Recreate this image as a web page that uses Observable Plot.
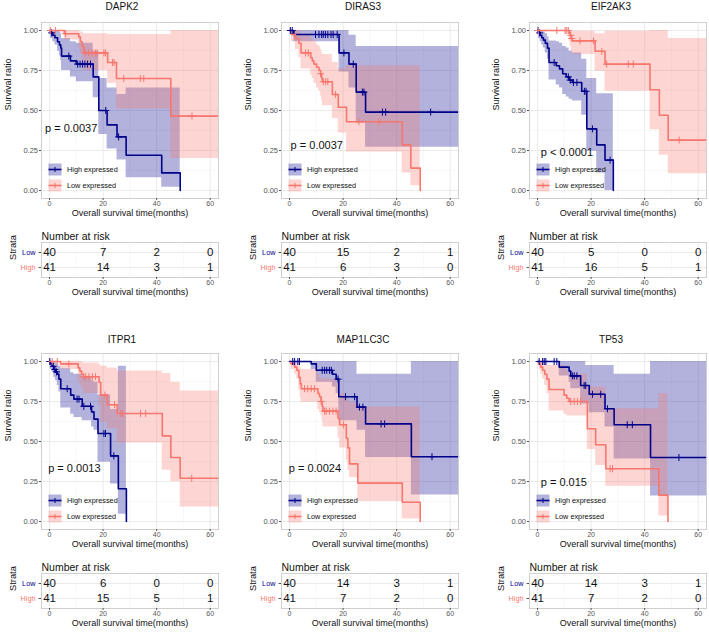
<!DOCTYPE html>
<html><head><meta charset="utf-8">
<script src="https://cdn.jsdelivr.net/npm/d3@7"></script>
<script src="https://cdn.jsdelivr.net/npm/@observablehq/plot@0.6"></script>
<style>
body{margin:0;background:#fff;font-family:"Liberation Sans",Arial,Helvetica,sans-serif;}
#root{position:relative;width:709px;height:632px;overflow:hidden;background:#fff;}
.abs{position:absolute;white-space:nowrap;}
</style></head><body><div id="root"></div>
<script>
// ---------- DATA ----------
// each step: [time (months), survival, lower CI, upper CI]
const genes = ["DAPK2", "DIRAS3", "EIF2AK3", "ITPR1", "MAP1LC3C", "TP53"];
const pvalues = ["p = 0.0037", "p = 0.0037", "p < 0.0001", "p = 0.0013", "p = 0.0024", "p = 0.015"];
const riskTimes = [0, 20, 40, 60];

const DAPK2_high = [[0,1,1,1],[0.4,0.985,0.95,1],[1.2,0.97,0.93,1],[2.0,0.955,0.91,1],[3.0,0.93,0.87,1],[3.7,0.91,0.84,0.99],[4.2,0.89,0.81,0.98],[4.5,0.84,0.75,0.95],[7.8,0.81,0.71,0.93],[10.0,0.79,0.68,0.92],[16.3,0.71,0.58,0.87],[18.4,0.50,0.35,0.70],[21.5,0.41,0.26,0.64],[25.2,0.335,0.19,0.60],[28.6,0.22,0.08,0.64],[41.9,0.11,0.02,0.64],[48.8,0,0,0]];
const DAPK2_highEnd = 48.8;
const DAPK2_highCens = [0.8,7.2,10.5,11.4,12.3,13.2,14.2,15.3,21.0,25.8];
const DAPK2_low = [[0,1,1,1],[5.5,0.98,0.94,1],[10.9,0.96,0.89,0.995],[11.5,0.93,0.85,0.99],[12.2,0.90,0.80,0.985],[12.8,0.86,0.75,0.98],[21.7,0.80,0.67,0.975],[25.0,0.70,0.51,0.975],[45.3,0.465,0.20,1]];
const DAPK2_lowEnd = 63.1;
const DAPK2_lowCens = [0.3,2.2,6.0,13.4,14.6,15.9,17.1,17.8,20.3,20.9,23.5,24.1,27.7,33.9,35.2,53.2];
const DAPK2_riskLow = [40,7,2,0];
const DAPK2_riskHigh = [41,14,3,1];

const DIRAS3_high = [[0,1,1,1],[1.6,0.975,0.93,1],[18.5,0.86,0.74,1],[22.2,0.79,0.64,0.97],[24.9,0.615,0.42,0.90],[28.4,0.49,0.27,0.90]];
const DIRAS3_highEnd = 63.1;
const DIRAS3_highCens = [0.3,1.0,9.7,11.0,12.0,12.6,13.4,14.3,15.5,16.3,17.8,20.3,23.8,27.2,27.8,34.7,35.9,52.7];
const DIRAS3_low = [[0,1,1,1],[0.7,0.975,0.93,1],[2.2,0.95,0.88,1],[3.5,0.92,0.83,1],[4.3,0.86,0.76,0.97],[7.9,0.83,0.72,0.95],[8.5,0.81,0.70,0.94],[9.1,0.79,0.67,0.93],[10.1,0.77,0.64,0.91],[11.0,0.75,0.62,0.90],[11.6,0.73,0.59,0.88],[12.0,0.70,0.56,0.86],[12.3,0.68,0.53,0.85],[16.0,0.60,0.45,0.80],[18.2,0.52,0.36,0.76],[21.3,0.43,0.24,0.78],[42.1,0.285,0.11,0.78],[45.3,0.14,0.03,0.78],[48.8,0,0,0]];
const DIRAS3_lowEnd = 48.8;
const DIRAS3_lowCens = [6.0,7.0,11.6,12.6,13.5,14.3,17.2,25.9,33.4];
const DIRAS3_riskLow = [40,15,2,1];
const DIRAS3_riskHigh = [41,6,3,0];

const EIF2AK3_high = [[0,1,1,1],[0.4,0.985,0.95,1],[1.0,0.97,0.93,1],[1.6,0.955,0.91,1],[2.2,0.94,0.89,0.99],[2.9,0.92,0.86,0.98],[3.7,0.89,0.82,0.96],[4.3,0.80,0.69,0.935],[7.0,0.78,0.66,0.93],[8.2,0.76,0.64,0.92],[9.4,0.73,0.60,0.90],[10.7,0.71,0.585,0.89],[11.8,0.69,0.57,0.87],[13.0,0.675,0.56,0.86],[16.5,0.62,0.47,0.82],[18.4,0.385,0.245,0.70],[22.1,0.285,0.11,0.605],[25.2,0.19,0.0,0.605],[28.3,0,0,0]];
const EIF2AK3_highEnd = 28.3;
const EIF2AK3_highCens = [0.2,0.8,6.2,11.5,12.2,13.4,14.7,17.5,18.1,20.5,27.1];
const EIF2AK3_low = [[0,1,1,1],[11.8,0.985,0.93,1],[12.2,0.97,0.90,1],[12.6,0.95,0.87,1],[13.0,0.935,0.85,0.995],[21.5,0.87,0.745,0.98],[25.2,0.79,0.62,0.995],[42.0,0.63,0.38,1],[45.5,0.47,0.22,1],[48.8,0.315,0.105,0.95]];
const EIF2AK3_lowEnd = 63.1;
const EIF2AK3_lowCens = [0.3,7.2,10.3,10.9,11.5,12.4,12.8,15.9,20.9,24.0,25.8,33.9,35.8,52.9];
const EIF2AK3_riskLow = [40,5,0,0];
const EIF2AK3_riskHigh = [41,16,5,1];

const ITPR1_high = [[0,1,1,1],[0.4,0.985,0.95,1],[1.0,0.97,0.93,1],[1.6,0.95,0.90,1],[2.2,0.935,0.88,0.99],[2.9,0.92,0.85,0.98],[3.5,0.89,0.81,0.97],[4.2,0.83,0.71,0.955],[7.9,0.79,0.67,0.93],[9.1,0.765,0.65,0.92],[12.2,0.72,0.63,0.90],[15.7,0.685,0.59,0.88],[16.6,0.64,0.57,0.87],[18.1,0.55,0.37,0.79],[22.8,0.41,0.235,0.70],[25.7,0.205,0.046,0.97],[28.7,0,0,0]];
const ITPR1_highEnd = 28.7;
const ITPR1_highCens = [0.1,1.4,2.0,2.6,6.6,10.3,11.0,12.8,15.3,20.3,20.9,24.0];
const ITPR1_low = [[0,1,1,1],[4.1,0.985,0.95,1],[10.7,0.96,0.88,1],[11.3,0.94,0.85,1],[12.0,0.92,0.83,0.995],[12.6,0.905,0.80,0.99],[18.5,0.87,0.72,0.98],[19.1,0.79,0.62,0.97],[21.6,0.73,0.58,0.96],[25.3,0.675,0.49,0.94],[42.1,0.535,0.32,0.925],[45.3,0.40,0.25,0.87],[48.8,0.27,0.09,0.815]];
const ITPR1_lowEnd = 63.1;
const ITPR1_lowCens = [1.0,2.9,7.2,12.8,13.5,14.7,16.0,17.2,20.7,24.3,26.6,27.2,34.0,35.9,53.1];
const ITPR1_riskLow = [40,6,0,0];
const ITPR1_riskHigh = [41,15,5,1];

const MAP1LC3C_high = [[0,1,1,1],[8.1,0.985,0.95,1],[10.0,0.945,0.87,1],[16.0,0.92,0.84,1],[17.4,0.89,0.80,1],[18.4,0.78,0.63,1],[25.2,0.715,0.57,0.92],[28.4,0.61,0.40,0.92],[45.5,0.405,0.165,1]];
const MAP1LC3C_highEnd = 63.1;
const MAP1LC3C_highCens = [1.2,1.9,3.1,3.7,12.2,13.1,13.9,14.9,15.6,18.1,20.9,24.3,26.1,27.4,34.2,35.5,53.2];
const MAP1LC3C_low = [[0,1,1,1],[0.6,0.985,0.95,1],[1.9,0.965,0.92,1],[2.7,0.945,0.89,1],[3.5,0.90,0.82,0.98],[4.0,0.86,0.77,0.96],[4.4,0.83,0.745,0.95],[10.6,0.80,0.70,0.92],[11.2,0.78,0.68,0.90],[11.8,0.75,0.66,0.89],[12.2,0.72,0.62,0.89],[12.5,0.69,0.59,0.89],[18.1,0.645,0.52,0.84],[18.7,0.605,0.46,0.80],[21.2,0.52,0.38,0.78],[21.8,0.46,0.32,0.76],[22.4,0.36,0.275,0.745],[25.5,0.24,0.125,0.715],[42.1,0.12,0.015,0.715],[48.8,0,0,0]];
const MAP1LC3C_lowEnd = 48.8;
const MAP1LC3C_lowCens = [5.6,6.8,8.1,9.3,11.8,13.1,13.7,14.9,16.2,17.4,20.2];
const MAP1LC3C_riskLow = [40,14,3,1];
const MAP1LC3C_riskHigh = [41,7,2,0];

const TP53_high = [[0,1,1,1],[8.1,0.965,0.91,1],[11.8,0.94,0.87,1],[12.4,0.91,0.83,1],[16.1,0.85,0.735,1],[18.0,0.85,0.735,0.975],[19.3,0.795,0.68,0.975],[25.2,0.705,0.59,0.975],[28.6,0.605,0.39,0.92],[42.2,0.40,0.16,1]];
const TP53_highEnd = 63.1;
const TP53_highCens = [0.6,1.9,2.5,3.1,6.2,7.2,13.0,13.7,14.7,17.4,18.0,20.5,23.6,26.1,33.5,35.4,52.8];
const TP53_low = [[0,1,1,1],[0.6,0.985,0.95,1],[1.2,0.965,0.92,1],[1.9,0.945,0.89,0.995],[2.7,0.92,0.85,0.99],[3.5,0.89,0.80,0.98],[4.3,0.825,0.69,0.975],[9.9,0.79,0.67,0.955],[10.9,0.77,0.66,0.94],[11.8,0.75,0.66,0.92],[18.6,0.58,0.45,0.84],[21.7,0.48,0.35,0.84],[25.5,0.33,0.22,0.705],[45.3,0.165,0.035,0.80],[48.7,0,0,0]];
const TP53_lowEnd = 48.7;
const TP53_lowCens = [12.4,13.7,14.9,16.1,27.1,28.0];
const TP53_riskLow = [40,14,3,1];
const TP53_riskHigh = [41,7,2,0];

// p-value label anchor (data coords: months, survival)
const pvalX = [-1.7, 0.4, 1.2, -0.5, -0.3, 1.2];
const pvalY = [0.385, 0.28, 0.24, 0.33, 0.33, 0.245];

// ---------- BUILD ----------
const navy = "#00008B", salmon = "#F8766D";
const xDomain = [-3, 63.1], yDomain = [-0.05, 1.05];
const panels = [
  {gene: genes[0], high: DAPK2_high, highEnd: DAPK2_highEnd, highCens: DAPK2_highCens, low: DAPK2_low, lowEnd: DAPK2_lowEnd, lowCens: DAPK2_lowCens, rLow: DAPK2_riskLow, rHigh: DAPK2_riskHigh},
  {gene: genes[1], high: DIRAS3_high, highEnd: DIRAS3_highEnd, highCens: DIRAS3_highCens, low: DIRAS3_low, lowEnd: DIRAS3_lowEnd, lowCens: DIRAS3_lowCens, rLow: DIRAS3_riskLow, rHigh: DIRAS3_riskHigh},
  {gene: genes[2], high: EIF2AK3_high, highEnd: EIF2AK3_highEnd, highCens: EIF2AK3_highCens, low: EIF2AK3_low, lowEnd: EIF2AK3_lowEnd, lowCens: EIF2AK3_lowCens, rLow: EIF2AK3_riskLow, rHigh: EIF2AK3_riskHigh},
  {gene: genes[3], high: ITPR1_high, highEnd: ITPR1_highEnd, highCens: ITPR1_highCens, low: ITPR1_low, lowEnd: ITPR1_lowEnd, lowCens: ITPR1_lowCens, rLow: ITPR1_riskLow, rHigh: ITPR1_riskHigh},
  {gene: genes[4], high: MAP1LC3C_high, highEnd: MAP1LC3C_highEnd, highCens: MAP1LC3C_highCens, low: MAP1LC3C_low, lowEnd: MAP1LC3C_lowEnd, lowCens: MAP1LC3C_lowCens, rLow: MAP1LC3C_riskLow, rHigh: MAP1LC3C_riskHigh},
  {gene: genes[5], high: TP53_high, highEnd: TP53_highEnd, highCens: TP53_highCens, low: TP53_low, lowEnd: TP53_lowEnd, lowCens: TP53_lowCens, rLow: TP53_riskLow, rHigh: TP53_riskHigh}
];

const root = document.getElementById("root");
const colLeft = [0, 240, 488];      // container offsets, frame left = +41
const titleX = [122, 363, 611];
const rowGeo = [{title: 7, km: 22, risk: 242}, {title: 340, km: 353, risk: 573}];
const ML = 41, FW = 177, FH = 176, RH = 35;
const FONT = "Liberation Sans, Arial, Helvetica, sans-serif";

function rows(steps, end) {
  const r = steps.map(([t, s, lo, hi]) => ({t, s, lo, hi}));
  r.push({...r[r.length - 1], t: end});
  return r;
}
function survAt(steps, t) { let s = 1; for (const st of steps) if (st[0] <= t) s = st[1]; return s; }
function place(el, left, top) { el.style.position = "absolute"; el.style.left = left + "px"; el.style.top = top + "px"; root.appendChild(el); }
function div(text, css) { const d = document.createElement("div"); d.className = "abs"; d.textContent = text; Object.assign(d.style, css); root.appendChild(d); return d; }

const gridMarks = () => [
  Plot.ruleX([10, 30, 50], {stroke: "#f0f0f0", strokeWidth: 0.5}),
  Plot.ruleX([0, 20, 40, 60], {stroke: "#e6e6e6", strokeWidth: 0.8}),
];

panels.forEach((p, i) => {
  const row = rowGeo[Math.floor(i / 3)], col = i % 3;
  const left = colLeft[col];
  const hi = rows(p.high, p.highEnd), lo = rows(p.low, p.lowEnd);
  const hc = p.highCens.map(t => ({t, s: survAt(p.high, t)}));
  const lc = p.lowCens.map(t => ({t, s: survAt(p.low, t)}));

  // title
  div(p.gene, {left: (titleX[col] - 60) + "px", width: "120px", textAlign: "center", top: (row.title - 7) + "px", fontSize: "10px", lineHeight: "14px", color: "#111"});

  const km = Plot.plot({
    width: ML + FW + 3, height: 4 + FH + 28,
    marginLeft: ML, marginRight: 3, marginTop: 4, marginBottom: 28,
    x: {domain: xDomain}, y: {domain: yDomain},
    style: {fontFamily: FONT, fontSize: "7.5px", background: "transparent", overflow: "visible"},
    marks: [
      ...gridMarks(),
      Plot.ruleY([0.125, 0.375, 0.625, 0.875], {stroke: "#f0f0f0", strokeWidth: 0.5}),
      Plot.ruleY([0, 0.25, 0.5, 0.75, 1], {stroke: "#e6e6e6", strokeWidth: 0.8}),
      Plot.areaY(hi, {x: "t", y1: "lo", y2: "hi", curve: "step-after", fill: navy, fillOpacity: 0.3}),
      Plot.areaY(lo, {x: "t", y1: "lo", y2: "hi", curve: "step-after", fill: salmon, fillOpacity: 0.3}),
      Plot.line(hi, {x: "t", y: "s", curve: "step-after", stroke: navy, strokeWidth: 1.6}),
      Plot.line(lo, {x: "t", y: "s", curve: "step-after", stroke: salmon, strokeWidth: 1.6}),
      Plot.dot(hc, {x: "t", y: "s", symbol: "plus", r: 2.4, stroke: navy, strokeWidth: 1}),
      Plot.dot(lc, {x: "t", y: "s", symbol: "plus", r: 2.4, stroke: salmon, strokeWidth: 1}),
      Plot.frame({stroke: "#cfcfcf"}),
      Plot.axisX({ticks: [0, 20, 40, 60], tickSize: 2, tickPadding: 1, fontSize: 7, color: "#555", label: null}),
      Plot.axisY({ticks: [0, 0.25, 0.5, 0.75, 1], tickFormat: d3.format(".2f"), tickSize: 2, tickPadding: 1.5, fontSize: 7.5, color: "#555", label: null}),
      Plot.text(["Overall survival time(months)"], {frameAnchor: "bottom", dy: 17, fontSize: 9, fill: "#111"}),
      Plot.text(["Survival ratio"], {frameAnchor: "left", dx: -33, rotate: -90, fontSize: 9, fill: "#111"}),
      Plot.text([pvalues[i]], {x: pvalX[i], y: pvalY[i], textAnchor: "start", fontSize: 11, fill: "#111"})
    ]
  });
  place(km, left, row.km - 4);

  // legend inside the panel (bottom-left), drawn as SVG
  const fx = left + ML, fb = row.km + FH;
  const ns = "http://www.w3.org/2000/svg";
  const svg = document.createElementNS(ns, "svg");
  svg.setAttribute("width", 95); svg.setAttribute("height", 32);
  let inner = "";
  [["High expressed", navy, 0], ["Low expressed", salmon, 16]].forEach(([label, c, y0]) => {
    inner += `<rect x="0.5" y="${y0 + 0.5}" width="13" height="12" fill="${c}" fill-opacity="0.3"/>` +
      `<line x1="0.5" x2="13.5" y1="${y0 + 6.5}" y2="${y0 + 6.5}" stroke="${c}" stroke-width="1.6"/>` +
      `<line x1="7" x2="7" y1="${y0 + 4}" y2="${y0 + 9}" stroke="${c}" stroke-width="1"/>` +
      `<text x="19" y="${y0 + 6.5}" dy="0.35em" font-family="${FONT}" font-size="7.3" fill="#111">${label}</text>`;
  });
  svg.innerHTML = inner;
  place(svg, fx + 7, fb - 35.5);

  // risk table
  const rData = [];
  riskTimes.forEach((t, k) => { rData.push({t, strata: "Low", n: p.rLow[k]}); rData.push({t, strata: "High", n: p.rHigh[k]}); });
  const risk = Plot.plot({
    width: ML + FW + 3, height: 18 + RH + 25,
    marginLeft: ML, marginRight: 3, marginTop: 18, marginBottom: 25,
    x: {domain: xDomain}, y: {domain: ["Low", "High"], type: "point", padding: 0.6},
    style: {fontFamily: FONT, fontSize: "7.5px", background: "transparent", overflow: "visible"},
    marks: [
      ...gridMarks(),
      Plot.ruleY(["Low", "High"], {stroke: "#e6e6e6", strokeWidth: 0.8}),
      Plot.frame({stroke: "#cfcfcf"}),
      Plot.text(rData, {x: "t", y: "strata", text: "n", fontSize: 11.5, fill: "#111"}),
      Plot.axisY({tickSize: 2.5, tickFormat: () => "", color: "#555", label: null}),
      Plot.text([{k: "Low", c: navy}, {k: "High", c: salmon}], {y: "k", text: "k", fill: "c", frameAnchor: "left", dx: -6, textAnchor: "end", fontSize: 7.3}),
      Plot.text(["Strata"], {frameAnchor: "left", dx: -28, rotate: -90, fontSize: 9.3, fill: "#111"}),
      Plot.text(["Number at risk"], {frameAnchor: "top-left", dy: -10, textAnchor: "start", fontSize: 10.5, fill: "#111"}),
      Plot.axisX({ticks: [0, 20, 40, 60], tickSize: 2, tickPadding: 1, fontSize: 7, color: "#555", label: null}),
      Plot.text(["Overall survival time(months)"], {frameAnchor: "bottom", dy: 17, fontSize: 9, fill: "#111"})
    ]
  });
  place(risk, left, row.risk - 18);
});
</script></body></html>
